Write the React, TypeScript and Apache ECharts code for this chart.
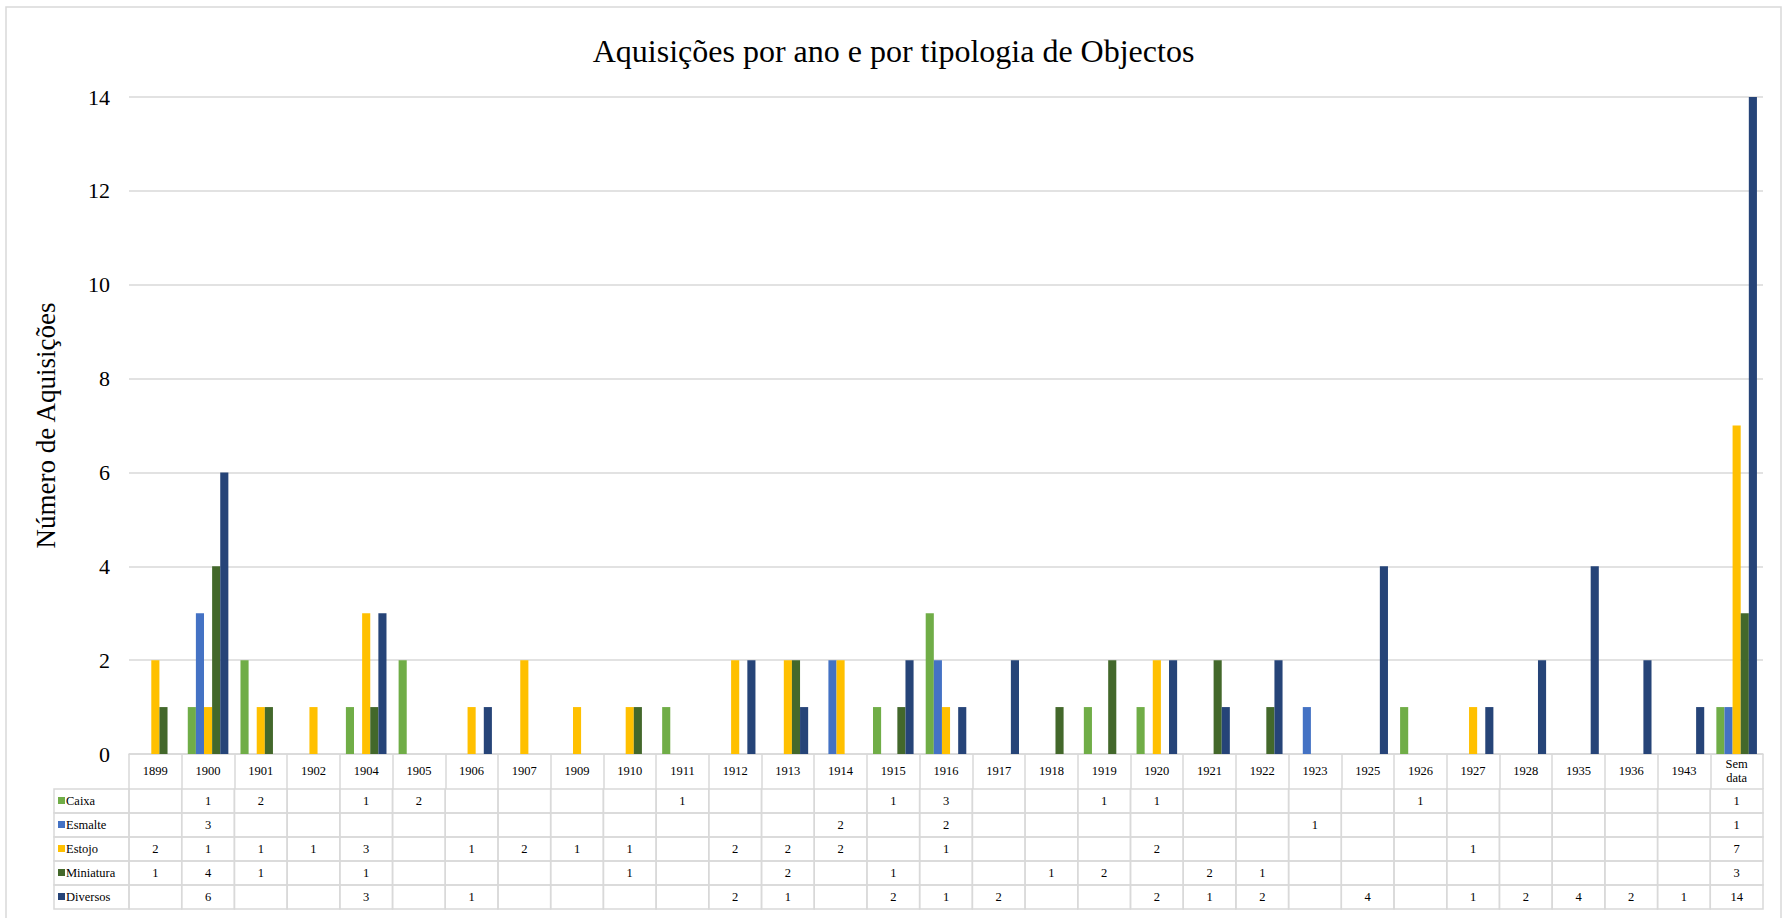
import React, { useEffect, useRef } from "react";
import * as echarts from "echarts";

const categories = ["1899","1900","1901","1902","1904","1905","1906","1907","1909","1910","1911","1912","1913","1914","1915","1916","1917","1918","1919","1920","1921","1922","1923","1925","1926","1927","1928","1935","1936","1943","Sem data"];
const _ = null;
const caixa =     [_,1,2,_,1,2,_,_,_,_,1,_,_,_,1,3,_,_,1,1,_,_,_,_,1,_,_,_,_,_,1];
const esmalte =   [_,3,_,_,_,_,_,_,_,_,_,_,_,2,_,2,_,_,_,_,_,_,1,_,_,_,_,_,_,_,1];
const estojo =    [2,1,1,1,3,_,1,2,1,1,_,2,2,2,_,1,_,_,_,2,_,_,_,_,_,1,_,_,_,_,7];
const miniatura = [1,4,1,_,1,_,_,_,_,1,_,_,2,_,1,_,_,1,2,_,2,1,_,_,_,_,_,_,_,_,3];
const diversos =  [_,6,_,_,3,_,1,_,_,_,_,2,1,_,2,1,2,_,_,2,1,2,_,4,_,1,2,4,2,1,14];
const seriesNames = ["Caixa","Esmalte","Estojo","Miniatura","Diversos"];
const seriesColors = ["#70AD47","#4472C4","#FFC000","#43682B","#264478"];
const seriesData = [caixa, esmalte, estojo, miniatura, diversos];
const yTicks = { min: 0, max: 14, interval: 2 };

const FONT = "'Liberation Serif', 'Times New Roman', serif";
const GRID = "#d9d9d9";

export default function App() {
  const ref = useRef<HTMLDivElement>(null);
  useEffect(() => {
    if (!ref.current) return;
    const chart = echarts.init(ref.current, undefined, { renderer: "svg" });
    const headerH = 35;
    const rowH = 24;
    const legendW = 75;

    const tableSeries: any = {
      type: "custom",
      silent: true,
      clip: false,
      z: 10,
      data: categories.map((c, i) => [i, 0]),
      encode: { x: 0, y: 1 },
      renderItem: (params: any, api: any) => {
        const idx = params.dataIndex;
        const pt = api.coord([idx, 0]);
        const w = api.size([1, 0])[0];
        const x0 = pt[0] - w / 2;
        const top = pt[1] + headerH;
        const children: any[] = [];
        for (let r = 0; r < seriesData.length; r++) {
          const y = top + r * rowH;
          children.push({
            type: "rect",
            shape: { x: x0, y, width: w, height: rowH },
            style: { fill: "none", stroke: GRID, lineWidth: 1.5 },
          });
          const v = seriesData[r][idx];
          if (v !== null && v !== undefined) {
            children.push({
              type: "text",
              style: {
                text: String(v), x: pt[0], y: y + rowH / 2,
                align: "center", verticalAlign: "middle",
                fontSize: 12.5, fontFamily: FONT, fill: "#000",
              },
            });
          }
        }
        if (idx === 0) {
          for (let r = 0; r < seriesData.length; r++) {
            const y = top + r * rowH;
            children.push({
              type: "rect",
              shape: { x: x0 - legendW, y, width: legendW, height: rowH },
              style: { fill: "none", stroke: GRID, lineWidth: 1.5 },
            });
            children.push({
              type: "rect",
              shape: { x: x0 - legendW + 4, y: y + rowH / 2 - 4, width: 7, height: 7 },
              style: { fill: seriesColors[r] },
            });
            children.push({
              type: "text",
              style: {
                text: seriesNames[r], x: x0 - legendW + 12, y: y + rowH / 2,
                align: "left", verticalAlign: "middle",
                fontSize: 12.5, fontFamily: FONT, fill: "#000",
              },
            });
          }
        }
        return { type: "group", children };
      },
    };

    const option: any = {
      animation: false,
      backgroundColor: "#fff",
      title: {
        text: "Aquisições por ano e por tipologia de Objectos",
        left: "center",
        top: 30,
        textStyle: { fontFamily: FONT, fontSize: 32, fontWeight: "normal", color: "#000" },
      },
      graphic: [
        {
          type: "rect",
          shape: { x: 6, y: 7, width: 1775, height: 940 },
          style: { fill: "none", stroke: GRID, lineWidth: 1.5 },
          silent: true,
        },
      ],
      grid: { left: 129, right: 24, top: 97, bottom: 164, containLabel: false },
      xAxis: {
        type: "category",
        data: categories,
        boundaryGap: true,
        axisLine: { show: true, lineStyle: { color: GRID, width: 1.5 } },
        axisTick: { show: true, length: 35, lineStyle: { color: GRID, width: 1.5 } },
        axisLabel: {
          interval: 0,
          margin: 17,
          verticalAlign: "middle",
          fontFamily: FONT,
          fontSize: 12.5,
          color: "#000",
          lineHeight: 14,
          formatter: (v: string) => (v === "Sem data" ? "Sem\ndata" : v),
        },
        splitLine: { show: false },
      },
      yAxis: {
        type: "value",
        min: yTicks.min,
        max: yTicks.max,
        interval: yTicks.interval,
        name: "Número de Aquisições",
        nameLocation: "middle",
        nameRotate: 90,
        nameGap: 70,
        nameTextStyle: { fontFamily: FONT, fontSize: 27, color: "#000" },
        axisLine: { show: false },
        axisTick: { show: false },
        axisLabel: { margin: 19, fontFamily: FONT, fontSize: 22, color: "#000" },
        splitLine: { lineStyle: { color: GRID, width: 1.5 } },
      },
      series: [
        ...seriesNames.map((name, i) => ({
          name,
          type: "bar",
          data: seriesData[i],
          barGap: "0%",
          barCategoryGap: "23%",
          itemStyle: { color: seriesColors[i] },
        })),
        tableSeries,
      ],
    };
    chart.setOption(option);
    return () => chart.dispose();
  }, []);
  return (
    <div
      ref={ref}
      style={{ position: "fixed", left: 0, top: 0, width: 1787, height: 918, background: "#fff" }}
    />
  );
}
